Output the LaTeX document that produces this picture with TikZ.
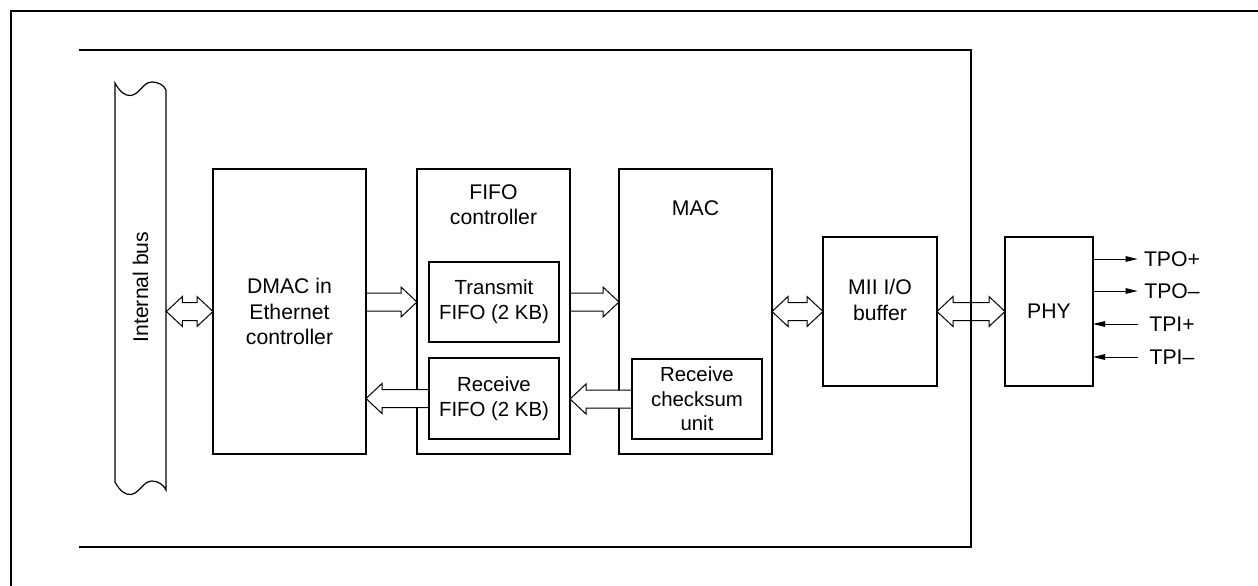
\documentclass[tikz,border=0pt]{standalone}
\usepackage{fontspec}
\setmainfont{Liberation Sans}
\usetikzlibrary{arrows.meta,positioning,calc}

\begin{document}
\begin{tikzpicture}[
  x=0.5pt,y=-0.5pt,
  node distance=25.5pt,
  font=\fontsize{10.6}{12.8}\selectfont,
  blk/.style={draw,line width=1.1pt,outer sep=0pt,minimum width=76.5pt,minimum height=142.5pt,align=center,inner sep=0pt},
  sub/.style={draw,line width=1pt,outer sep=0pt,minimum width=65pt,minimum height=40pt,align=center,inner sep=0pt,font=\fontsize{10.2}{12.3}\selectfont},
  lbl/.style={inner sep=0pt,align=center},
  sig/.style={inner sep=0pt,minimum width=34pt},
  wire/.style={line width=0.5pt,-{Triangle[length=6pt,width=2.8pt]}},
  hollow/.style={draw,line width=0.5pt,fill=white,
    to path={let \p1=(\tikztostart), \p2=(\tikztotarget), \n1={ifthenelse(\x2>\x1,1,-1)} in
      (\x1+\n1*0.55pt,\y1+4.5pt) -- (\x2-\n1*8pt,\y1+4.5pt) -- (\x2-\n1*8pt,\y1+7.5pt) -- (\x2,\y1)
      -- (\x2-\n1*8pt,\y1-7.5pt) -- (\x2-\n1*8pt,\y1-4.5pt) -- (\x1+\n1*0.55pt,\y1-4.5pt)}},
  dbl/.style={draw,line width=0.5pt,fill=white,
    to path={let \p1=(\tikztostart), \p2=(\tikztotarget), \n1={ifthenelse(\x2>\x1,1,-1)} in
      (\p1) -- (\x1+\n1*8pt,\y1+7.5pt) -- (\x1+\n1*8pt,\y1+4.5pt) -- (\x2-\n1*8pt,\y1+4.5pt)
      -- (\x2-\n1*8pt,\y1+7.5pt) -- (\x2,\y1) -- (\x2-\n1*8pt,\y1-7.5pt) -- (\x2-\n1*8pt,\y1-4.5pt)
      -- (\x1+\n1*8pt,\y1-4.5pt) -- (\x1+\n1*8pt,\y1-7.5pt) -- cycle}}
]
\useasboundingbox (0,0) rectangle (1258,585);

% outer frame and chip
\draw[line width=1.2pt] (11,590) -- (11,11) -- (1265,11);

% internal bus
\draw[line width=0.6pt] (115,83) .. controls (120,92) and (125,96) .. (131,95.5)
  .. controls (140,94) and (143,82) .. (152,82) .. controls (158,82) and (164,85) .. (166,90)
  -- (166,490) .. controls (164,485) and (158,481) .. (152,481)
  .. controls (143,481) and (140,493) .. (131,494.5) .. controls (125,495) and (120,491) .. (115,482) -- cycle;
\node[minimum width=25.5pt,inner sep=0pt] (bus) at (140.5,287) {\rotatebox{90}{Internal bus}};

% blocks
\node[blk] (dmac) at (289.5,311.5) {DMAC in\\Ethernet\\controller};
\node[blk,right=of dmac] (fifo) {};
\node[blk,right=24.5pt of fifo] (mac) {};
\node[blk,right=of mac,minimum width=57pt,minimum height=74.5pt] (mii) {};
\node[blk,right=34pt of mii,minimum width=44pt,minimum height=74.5pt] (phy) {PHY};
\node[lbl,below=7.5pt of fifo.north] (fifolbl) {FIFO\\controller};
\node[lbl,below=15.5pt of mac.north] (maclbl) {MAC};
\node[lbl,below=21pt of mii.north] (miilbl) {MII I/O\\buffer};
\node[sub] (txfifo) at (494,302) {Transmit\\FIFO (2 KB)};
\node[sub,below=8pt of txfifo,minimum height=40.5pt] (rxfifo) {Receive\\FIFO (2 KB)};
\node[sub] (cksum) at (697,399) {Receive\\checksum\\unit};

% data paths
\draw[dbl] (bus.east |- mii) to (dmac.west |- mii);
\draw[hollow] (dmac.east |- txfifo) to (fifo.west |- txfifo);
\draw[hollow] (fifo.east |- txfifo) to (mac.west |- txfifo);
\draw[hollow] (cksum.west) to (fifo.east |- cksum);
\draw[hollow] (rxfifo.west) to (dmac.east |- rxfifo);
\draw[dbl] (mac.east |- mii) to (mii.west);
\draw[dbl] (mii.east) to (phy.west);

\draw[line width=1pt] (79,50) -- (971,50) -- (971,547) -- (79,547);

% PHY pins
\node[sig] (tpop) at (1172,259) {TPO+};
\node[sig] (tpom) at (1172,291) {TPO–};
\node[sig] (tpip) at (1172,324) {TPI+};
\node[sig] (tpim) at (1172,357) {TPI–};
\draw[wire] (phy.east |- tpop) -- (tpop.west);
\draw[wire] (phy.east |- tpom) -- (tpom.west);
\draw[wire] (tpip.west) -- (phy.east |- tpip);
\draw[wire] (tpim.west) -- (phy.east |- tpim);
\end{tikzpicture}
\end{document}
